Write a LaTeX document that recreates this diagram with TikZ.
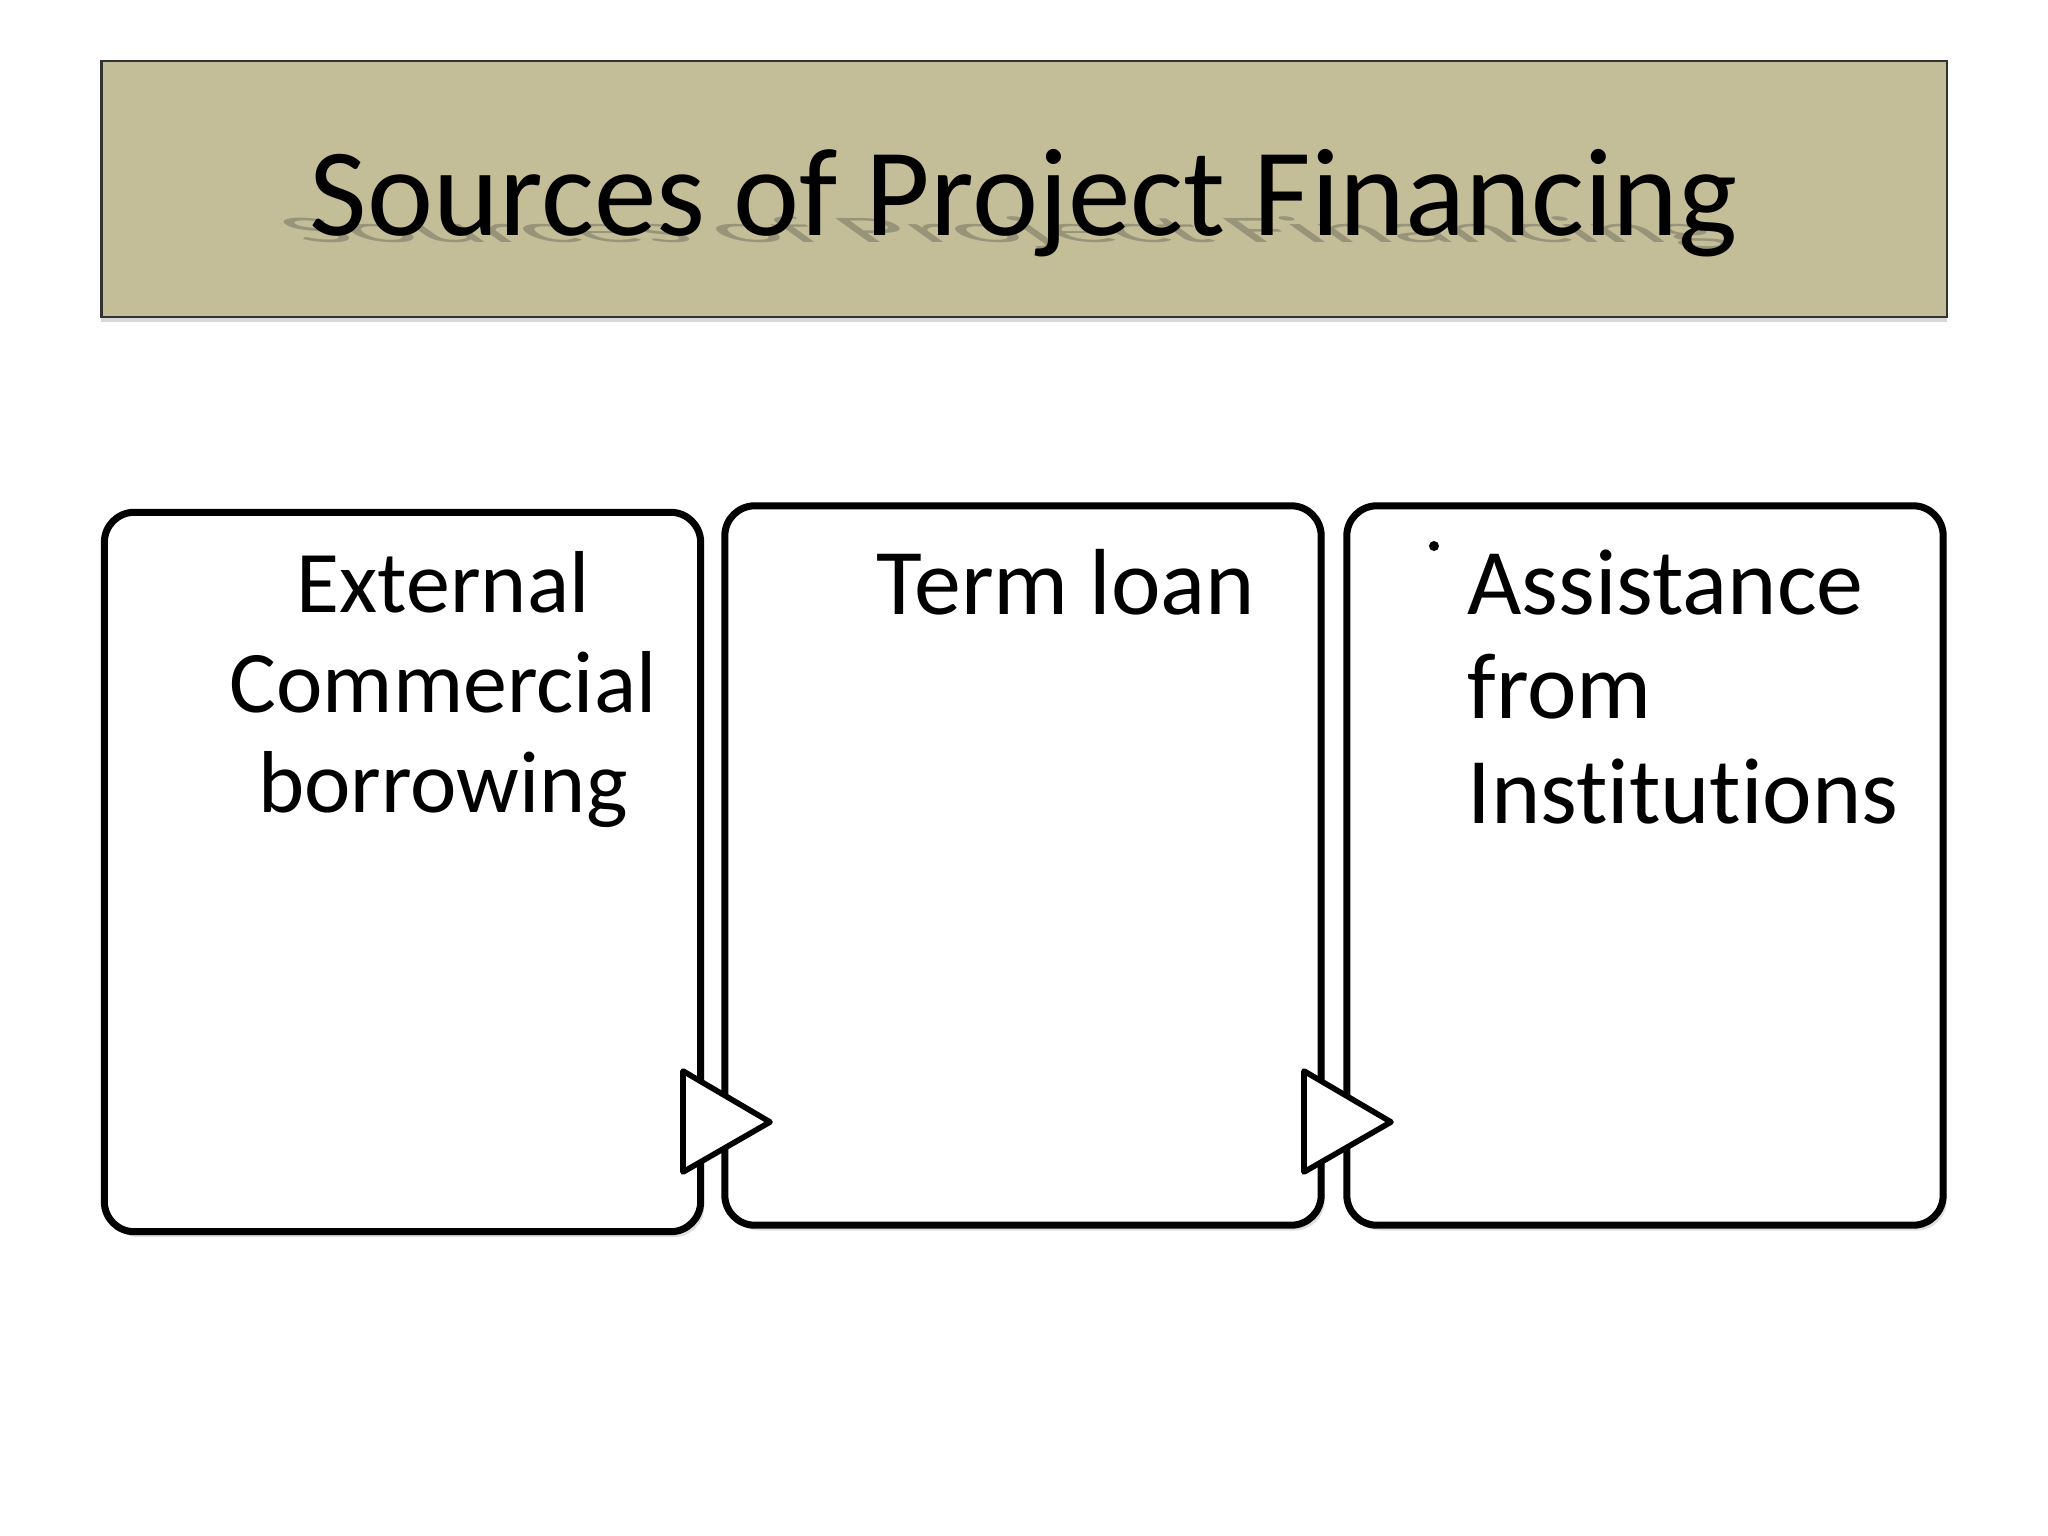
\documentclass[tikz,border=0pt]{standalone}
\usepackage{fontspec}
\setmainfont{Carlito}[Ligatures=NoCommon]
\usetikzlibrary{shadows}
\definecolor{titletan}{HTML}{C4BE98}
\tikzset{
  srcbox/.style={draw=black, fill=white, line width=2pt, rounded corners=0.3cm,
    inner sep=0pt, outer sep=0pt, minimum width=5.96cm, minimum height=7.19cm,
    drop shadow={shadow xshift=1pt, shadow yshift=-1.5pt, opacity=0.25}},
  srctext/.style={font=\fontsize{26.7}{29.6}\selectfont, text=black},
  steptri/.style={draw=black, fill=white, line width=1.6pt, line join=round}
}
\begin{document}
\begin{tikzpicture}[x=0.01cm,y=-0.01cm]
\useasboundingbox[fill=white] (0,0) rectangle (2048,1536);

% title bar
\node[draw=black!80, line width=0.6pt, fill=titletan, inner sep=0pt,
  minimum width=18.44cm, minimum height=2.56cm,
  drop shadow={shadow xshift=0pt, shadow yshift=-1.5pt, opacity=0.3}] (titlebar) at (1024,189) {};
\coordinate (shadowbase) at (1018,242);
\node[anchor=base, text=black!80, opacity=0.3, font=\fontsize{35.6}{40}\selectfont,
  xslant=-1.4, yscale=0.3, transform shape] (titleshadow) at (shadowbase) {Sources of Project Financing};
\node[anchor=base, font=\fontsize{35.6}{40}\selectfont] (title) at (1024,235) {Sources of Project Financing};

% the three boxes
\node[srcbox] (ecb) at (402.5,872) {};
\node[srcbox] (term) at (1023,865.5) {};
\node[srcbox] (inst) at (1645,865.5) {};

\foreach \t in {683,1304}{
\filldraw[steptri] (\t,1071) -- (\t+87,1122) -- (\t,1172) -- cycle;
}

% anchor=base sits on the last line
\node[srctext, font=\fontsize{25}{28.3}\selectfont, align=center, anchor=base] (ecbtext) at (443,812) {External\\Commercial\\borrowing};
\node[srctext, anchor=base] (termtext) at (1066,614) {Term loan};
\fill (1434,546) circle (5);
\node[srctext, align=left, anchor=base west] (insttext) at (1455,823) {Assistance\\from\\Institutions};

\end{tikzpicture}
\end{document}
